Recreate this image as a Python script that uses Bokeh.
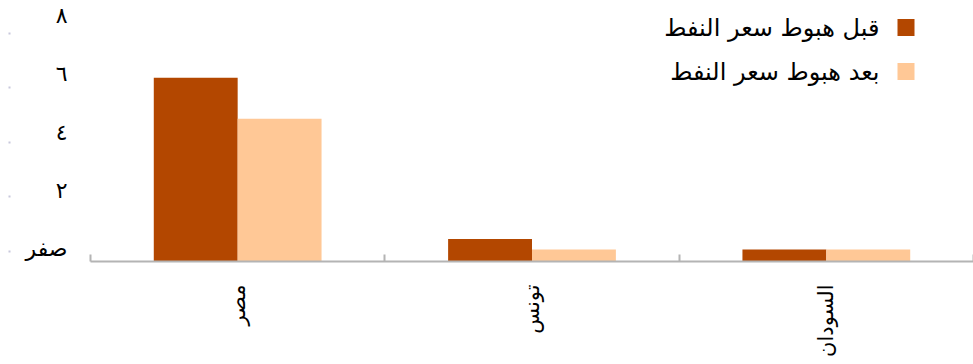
import math
from bokeh.plotting import figure
from bokeh.models import (ColumnDataSource, Range1d, LinearAxis, FixedTicker,
                          Label, BoxAnnotation)
from bokeh.transform import dodge
from bokeh.embed import file_html
from bokeh.resources import INLINE

# --- data -------------------------------------------------------------
countries = ["مصر", "تونس", "السودان"]
before_drop = [6.74, 0.83, 0.44]   # قبل هبوط سعر النفط
after_drop = [5.24, 0.44, 0.44]    # بعد هبوط سعر النفط
series_names = ["قبل هبوط سعر النفط", "بعد هبوط سعر النفط"]
y_ticks = [0, 2, 4, 6, 8]
y_tick_labels = ["صفر", "٢", "٤", "٦", "٨"]

DARK = "#B34700"
LIGHT = "#FFC896"
AXIS_GREY = "#B4B4B4"
FONT = "DejaVu Sans"

centers = [i + 0.5 for i in range(len(countries))]
src = ColumnDataSource(dict(x=centers, before=before_drop, after=after_drop))

p = figure(width=973, height=364, output_backend="svg", toolbar_location=None,
           x_range=Range1d(0, len(countries)), y_range=Range1d(0, 9.58),
           x_axis_location=None, y_axis_location=None,
           min_border_left=90, min_border_right=0, min_border_top=0,
           min_border_bottom=103)
p.outline_line_color = None
p.xgrid.visible = False
p.ygrid.visible = False
p.background_fill_color = "white"
p.border_fill_color = "white"

bar_w = 0.285
p.vbar(x=dodge("x", -bar_w / 2, range=p.x_range), top="before", width=bar_w,
       source=src, fill_color=DARK, line_color=None)
p.vbar(x=dodge("x", bar_w / 2, range=p.x_range), top="after", width=bar_w,
       source=src, fill_color=LIGHT, line_color=None)

# --- category axis: labels at group centres, ticks at group boundaries ---
xaxis = LinearAxis(ticker=FixedTicker(ticks=centers,
                                      minor_ticks=list(range(len(countries) + 1))))
xaxis.major_label_overrides = {c: n for c, n in zip(centers, countries)}
xaxis.major_label_orientation = math.pi / 2
xaxis.major_label_standoff = 23
xaxis.major_label_text_font = FONT
xaxis.major_label_text_font_size = "21px"
xaxis.major_label_text_color = "black"
xaxis.major_tick_in = 0
xaxis.major_tick_out = 0
xaxis.minor_tick_in = 7
xaxis.minor_tick_out = 0
xaxis.minor_tick_line_color = AXIS_GREY
xaxis.minor_tick_line_width = 2
xaxis.axis_line_color = AXIS_GREY
xaxis.axis_line_width = 2
p.add_layout(xaxis, "below")

# --- value axis labels ----------------------------------------------------
p.extra_y_ranges = {"lab": Range1d(-0.446, 8.515), "dots": Range1d(-0.367, 9.211)}
yaxis = LinearAxis(y_range_name="lab", ticker=FixedTicker(ticks=y_ticks))
yaxis.major_label_overrides = {t: s for t, s in zip(y_ticks, y_tick_labels)}
yaxis.major_label_standoff = 23
yaxis.major_label_text_font = FONT
yaxis.major_label_text_font_size = "22px"
yaxis.major_label_text_color = "black"
yaxis.major_tick_in = 0
yaxis.major_tick_out = 0
yaxis.minor_tick_in = 0
yaxis.minor_tick_out = 0
yaxis.axis_line_color = None
p.add_layout(yaxis, "left")

# faint tick dots at the far left edge (ticks only, no labels)
dots = LinearAxis(y_range_name="dots", ticker=FixedTicker(ticks=y_ticks))
dots.major_label_text_color = None
dots.major_label_standoff = 0
dots.major_tick_in = -12
dots.major_tick_out = 14
dots.major_tick_line_color = "#C8C8DC"
dots.major_tick_line_width = 2
dots.minor_tick_in = 0
dots.minor_tick_out = 0
dots.axis_line_color = None
p.add_layout(dots, "left")

# --- legend (square marker to the right of the text) ----------------------
legend_y = [234, 190]
for name, color, ly in zip(series_names, [DARK, LIGHT], legend_y):
    p.add_layout(Label(x=789, y=ly, x_units="screen", y_units="screen",
                       text=name, text_align="right", text_baseline="middle",
                       text_font=FONT, text_font_size="24px",
                       text_color="black"))
    p.add_layout(BoxAnnotation(left=807, right=824, bottom=ly - 8.5,
                               top=ly + 8.5, left_units="screen",
                               right_units="screen", top_units="screen",
                               bottom_units="screen", fill_color=color,
                               fill_alpha=1, line_color=None))

open("out.html", "w").write(file_html(p, INLINE))
